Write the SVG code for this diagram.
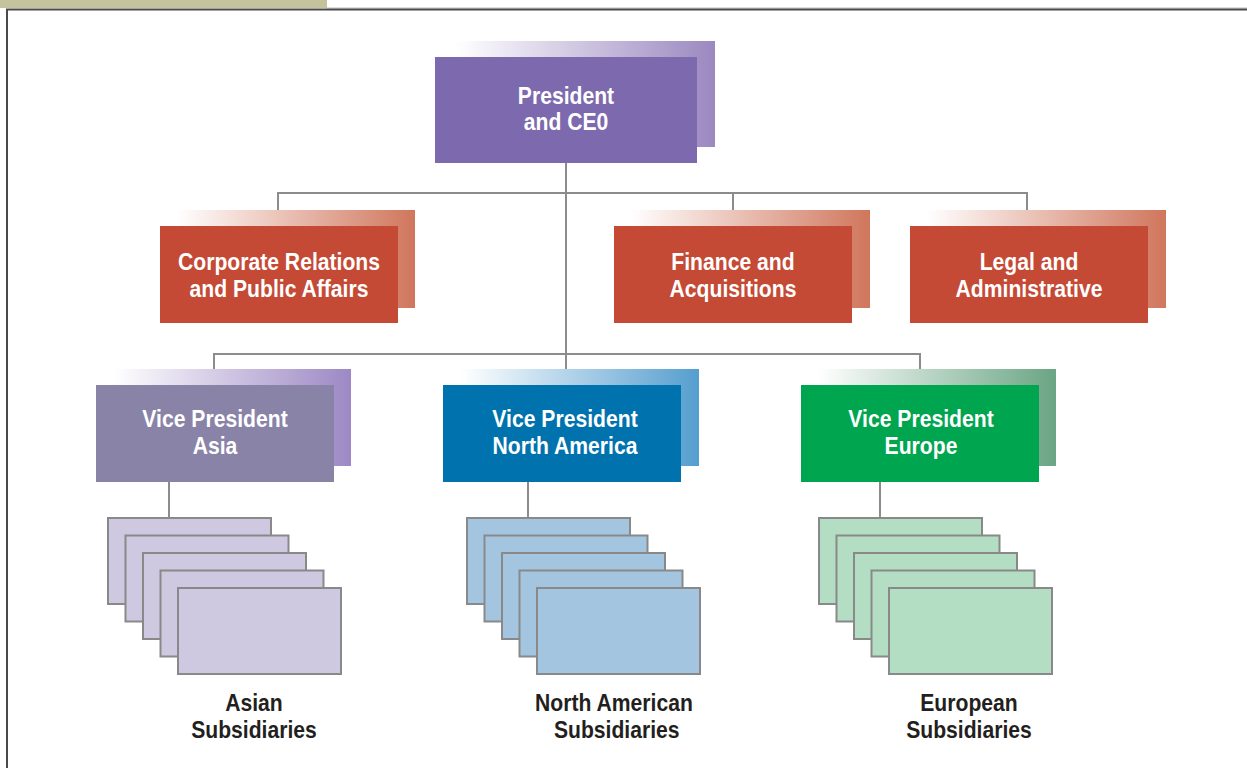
<svg xmlns="http://www.w3.org/2000/svg" width="1247" height="768" viewBox="0 0 1247 768">
<defs>
<linearGradient id="gPurple" x1="0" y1="0" x2="1" y2="0"><stop offset="0" stop-color="#ffffff"/><stop offset="1" stop-color="#9b88c0"/></linearGradient>
<linearGradient id="gRed" x1="0" y1="0" x2="1" y2="0"><stop offset="0" stop-color="#ffffff"/><stop offset="1" stop-color="#d0765c"/></linearGradient>
<linearGradient id="gAsia" x1="0" y1="0" x2="1" y2="0"><stop offset="0" stop-color="#ffffff"/><stop offset="1" stop-color="#9d88c4"/></linearGradient>
<linearGradient id="gBlue" x1="0" y1="0" x2="1" y2="0"><stop offset="0" stop-color="#ffffff"/><stop offset="1" stop-color="#559ecf"/></linearGradient>
<linearGradient id="gGreen" x1="0" y1="0" x2="1" y2="0"><stop offset="0" stop-color="#ffffff"/><stop offset="1" stop-color="#6aa584"/></linearGradient>
</defs>
<style>
.t{font-family:"Liberation Sans",Arial,sans-serif;font-weight:bold;font-size:23px;text-anchor:middle;fill:#ffffff}
.lbl{font-family:"Liberation Sans",Arial,sans-serif;font-weight:bold;font-size:23px;text-anchor:middle;fill:#231f20}
.c{stroke:#8c8c8c;stroke-width:2;fill:none}
.sa{fill:#cfc8e1;stroke:#898989;stroke-width:2}
.sn{fill:#a3c5e0;stroke:#898989;stroke-width:2}
.se{fill:#b3dec4;stroke:#898989;stroke-width:2}
</style>
<rect x="0" y="0" width="1247" height="768" fill="#ffffff"/>
<g id="frame">
<rect x="0" y="0" width="327" height="8" fill="#c5c39d"/>
<line x1="327" y1="8" x2="1247" y2="8" stroke="#bdbdbd" stroke-width="1"/>
<line x1="6" y1="9.5" x2="1247" y2="9.5" stroke="#4a4a4a" stroke-width="2"/>
<line x1="7" y1="9" x2="7" y2="768" stroke="#4a4a4a" stroke-width="2"/>
</g>
<g id="connectors">
<line class="c" x1="566" y1="163" x2="566" y2="385"/>
<polyline class="c" points="278,226 278,193 1027,193 1027,226"/>
<line class="c" x1="733" y1="193" x2="733" y2="226"/>
<polyline class="c" points="214,385 214,354 920,354 920,385"/>
<line class="c" x1="169" y1="482" x2="169" y2="517"/>
<line class="c" x1="528" y1="482" x2="528" y2="517"/>
<line class="c" x1="880" y1="482" x2="880" y2="517"/>
</g>
<g id="ceo">
<rect x="455" y="41" width="260" height="106" fill="url(#gPurple)"/>
<rect x="435" y="57" width="262" height="106" fill="#7d69ae"/>
<g transform="translate(566 0) scale(0.92 1)">
<text class="t" x="0" y="104">President</text>
<text class="t" x="0" y="130">and CE0</text>
</g>
</g>
<g id="corporate">
<rect x="177" y="210" width="238" height="98" fill="url(#gRed)"/>
<rect x="160" y="226" width="238" height="97" fill="#c44a35"/>
<g transform="translate(279 0) scale(0.92 1)">
<text class="t" x="0" y="270">Corporate Relations</text>
<text class="t" x="0" y="297">and Public Affairs</text>
</g>
</g>
<g id="finance">
<rect x="631" y="210" width="239" height="98" fill="url(#gRed)"/>
<rect x="614" y="226" width="238" height="97" fill="#c44a35"/>
<g transform="translate(733 0) scale(0.92 1)">
<text class="t" x="0" y="270">Finance and</text>
<text class="t" x="0" y="297">Acquisitions</text>
</g>
</g>
<g id="legal">
<rect x="927" y="210" width="239" height="98" fill="url(#gRed)"/>
<rect x="910" y="226" width="238" height="97" fill="#c44a35"/>
<g transform="translate(1029 0) scale(0.92 1)">
<text class="t" x="0" y="270">Legal and</text>
<text class="t" x="0" y="297">Administrative</text>
</g>
</g>
<g id="vp-asia">
<rect x="113" y="369" width="238" height="97" fill="url(#gAsia)"/>
<rect x="96" y="385" width="238" height="97" fill="#8a83a8"/>
<g transform="translate(215 0) scale(0.92 1)">
<text class="t" x="0" y="427">Vice President</text>
<text class="t" x="0" y="454">Asia</text>
</g>
</g>
<g id="vp-na">
<rect x="461" y="369" width="238" height="97" fill="url(#gBlue)"/>
<rect x="443" y="385" width="238" height="97" fill="#0072ad"/>
<g transform="translate(565 0) scale(0.92 1)">
<text class="t" x="0" y="427">Vice President</text>
<text class="t" x="0" y="454">North America</text>
</g>
</g>
<g id="vp-europe">
<rect x="818" y="369" width="238" height="97" fill="url(#gGreen)"/>
<rect x="801" y="385" width="238" height="97" fill="#00a54f"/>
<g transform="translate(921 0) scale(0.92 1)">
<text class="t" x="0" y="427">Vice President</text>
<text class="t" x="0" y="454">Europe</text>
</g>
</g>
<g id="asian-subsidiaries">
<rect class="sa" x="108" y="518" width="163" height="86"/>
<rect class="sa" x="125.5" y="535.5" width="163" height="86"/>
<rect class="sa" x="143" y="553" width="163" height="86"/>
<rect class="sa" x="160.5" y="570.5" width="163" height="86"/>
<rect class="sa" x="178" y="588" width="163" height="86"/>
<g transform="translate(254 0) scale(0.92 1)">
<text class="lbl" x="0" y="711">Asian</text>
<text class="lbl" x="0" y="738">Subsidiaries</text>
</g>
</g>
<g id="na-subsidiaries">
<rect class="sn" x="467" y="518" width="163" height="86"/>
<rect class="sn" x="484.5" y="535.5" width="163" height="86"/>
<rect class="sn" x="502" y="553" width="163" height="86"/>
<rect class="sn" x="519.5" y="570.5" width="163" height="86"/>
<rect class="sn" x="537" y="588" width="163" height="86"/>
<g transform="translate(614 0) scale(0.92 1)">
<text class="lbl" x="0" y="711">North American</text>
<text class="lbl" x="3" y="738">Subsidiaries</text>
</g>
</g>
<g id="european-subsidiaries">
<rect class="se" x="819" y="518" width="163" height="86"/>
<rect class="se" x="836.5" y="535.5" width="163" height="86"/>
<rect class="se" x="854" y="553" width="163" height="86"/>
<rect class="se" x="871.5" y="570.5" width="163" height="86"/>
<rect class="se" x="889" y="588" width="163" height="86"/>
<g transform="translate(969 0) scale(0.92 1)">
<text class="lbl" x="0" y="711">European</text>
<text class="lbl" x="0" y="738">Subsidiaries</text>
</g>
</g>
</svg>
